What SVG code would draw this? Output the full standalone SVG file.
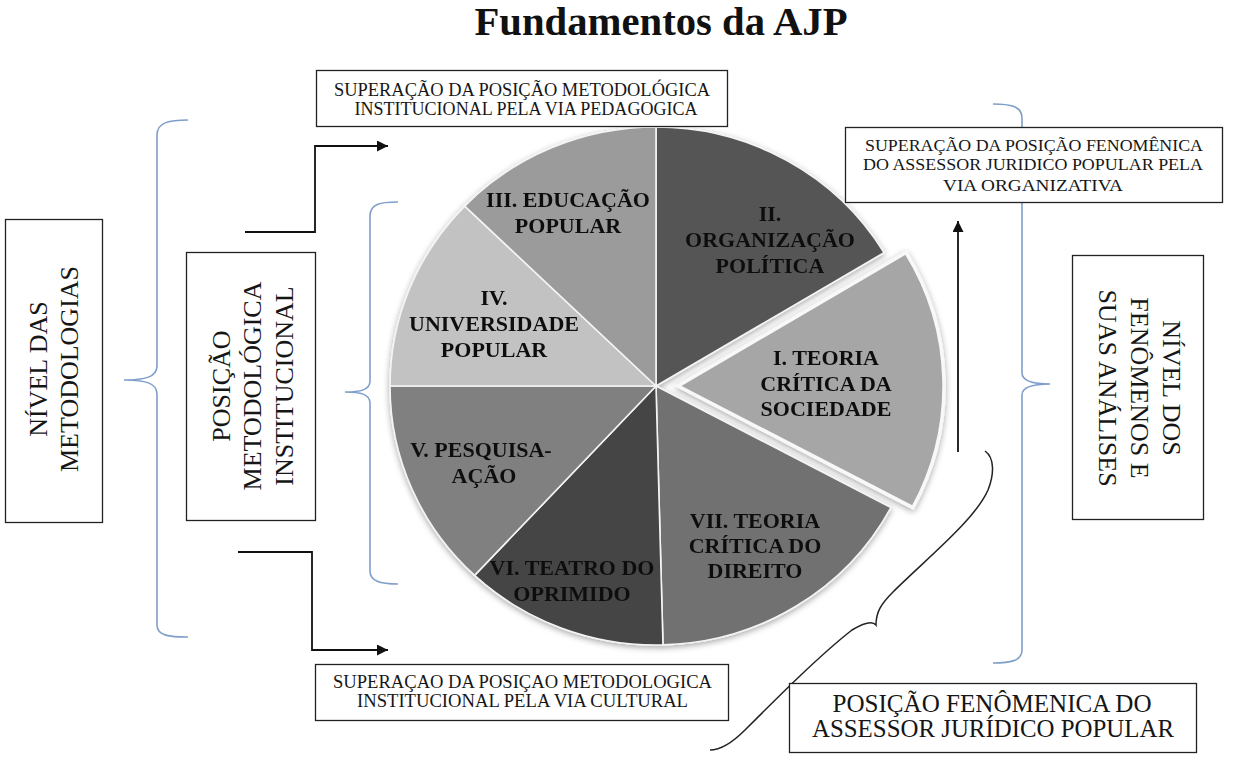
<svg xmlns="http://www.w3.org/2000/svg" width="1233" height="764" viewBox="0 0 1233 764">
<defs>
<style>
.box{fill:#fff;stroke:#222;stroke-width:1.3}
.bt{font-family:"Liberation Serif","Times New Roman",serif;fill:#161616;text-anchor:middle}
.pt{font-family:"Liberation Serif","Times New Roman",serif;font-weight:bold;font-size:22px;fill:#111;text-anchor:middle}
.sec{stroke:#f4f4f4;stroke-width:1.6}
.brace{fill:none;stroke:#7f9fcb;stroke-width:1.6}
.arr{fill:none;stroke:#111;stroke-width:1.8}
</style>
<marker id="ah" viewBox="0 0 10 10" refX="10" refY="5" markerWidth="12" markerHeight="11" markerUnits="userSpaceOnUse" orient="auto">
<path d="M0,0 L10,5 L0,10 z" fill="#111"/>
</marker>
<filter id="shadow" x="-10%" y="-10%" width="120%" height="120%">
<feDropShadow dx="0" dy="2" stdDeviation="3" flood-color="#000" flood-opacity="0.35"/>
</filter>
</defs>
<rect width="1233" height="764" fill="#fff"/>

<g id="title">
<text x="661" y="34.5" font-family="Liberation Serif,'Times New Roman',serif" font-weight="bold" font-size="39" text-anchor="middle" textLength="373" lengthAdjust="spacingAndGlyphs" fill="#111">Fundamentos da AJP</text>
</g>

<g id="connectors">
<path class="brace" d="M188,120 C170,120 157,122 157,135 L157,366 C157,377 145,380 124,380 C145,380 157,383 157,394 L157,625 C157,636 170,637 188,637"/>
<path class="brace" d="M398,202 C380,202 370,204 370,216 L370,381 C370,390 360,392 345,392 C360,392 370,394 370,403 L370,571 C370,581 380,584 398,584"/>
<path class="brace" d="M993,104 C1010,104 1022,106 1022,118 L1022,373 C1022,381 1032,384 1050,384 C1032,384 1022,387 1022,395 L1022,650 C1022,661 1010,663 993,663"/>
<path class="arr" d="M245,232 L315,232 L315,146 L388,146" marker-end="url(#ah)"/>
<path class="arr" d="M238,552 L312,552 L312,650 L388,650" marker-end="url(#ah)"/>
<path class="arr" d="M958,452 L958,221" marker-end="url(#ah)"/>
<path d="M985,451 C995,458 994,475 988,490 C975,520 925,560 893,592 C881,604 876,612 876,625 C872,620 862,624 852,630 C820,655 780,695 745,730 C732,743 720,750 710,750" fill="none" stroke="#222" stroke-width="1.5"/>
</g>

<g id="pie" filter="url(#shadow)">
<g id="sector-II">
<path class="sec" fill="#555555" d="M656,386 L656,127 A266,259 0 0 1 884.0,252.6 Z"/>
<text class="pt" x="770" y="221">II.</text>
<text class="pt" x="770" y="247">ORGANIZAÇÃO</text>
<text class="pt" x="770" y="273">POLÍTICA</text>
</g>
<g id="sector-VII">
<path class="sec" fill="#717171" d="M656,386 L890.9,507.6 A266,259 0 0 1 663.0,644.9 Z"/>
<text class="pt" x="755" y="528">VII. TEORIA</text>
<text class="pt" x="755" y="553">CRÍTICA DO</text>
<text class="pt" x="755" y="578">DIREITO</text>
</g>
<g id="sector-VI">
<path class="sec" fill="#444444" d="M656,386 L663.0,644.9 A266,259 0 0 1 474.6,575.4 Z"/>
<text class="pt" x="572" y="575">VI. TEATRO DO</text>
<text class="pt" x="572" y="601">OPRIMIDO</text>
</g>
<g id="sector-V">
<path class="sec" fill="#808080" d="M656,386 L474.6,575.4 A266,259 0 0 1 390,386 Z"/>
<text class="pt" x="481" y="457">V. PESQUISA-</text>
<text class="pt" x="484" y="483">AÇÃO</text>
</g>
<g id="sector-IV">
<path class="sec" fill="#c2c2c2" d="M656,386 L390,386 A266,259 0 0 1 464.7,206.1 Z"/>
<text class="pt" x="494" y="305">IV.</text>
<text class="pt" x="494" y="331">UNIVERSIDADE</text>
<text class="pt" x="494" y="357">POPULAR</text>
</g>
<g id="sector-III">
<path class="sec" fill="#9b9b9b" d="M656,386 L464.7,206.1 A266,259 0 0 1 656,127 Z"/>
<text class="pt" x="568" y="207">III. EDUCAÇÃO</text>
<text class="pt" x="568" y="233">POPULAR</text>
</g>
<g id="sector-I">
<path fill="#a6a6a6" stroke="#f8f8f8" stroke-width="3.5" d="M678,386 L906.0,252.6 A266,259 0 0 1 912.9,507.6 Z"/>
<text class="pt" x="826" y="365">I. TEORIA</text>
<text class="pt" x="826" y="391">CRÍTICA DA</text>
<text class="pt" x="826" y="416">SOCIEDADE</text>
</g>
</g>

<g id="box-pedagogica">
<rect class="box" x="316.5" y="70.5" width="411" height="56"/>
<text class="bt" font-size="18.5" x="522" y="96" textLength="376" lengthAdjust="spacingAndGlyphs">SUPERAÇÃO DA POSIÇÃO METODOLÓGICA</text>
<text class="bt" font-size="18.5" x="526" y="115" textLength="343" lengthAdjust="spacingAndGlyphs">INSTITUCIONAL PELA VIA PEDAGOGICA</text>
</g>

<g id="box-organizativa">
<rect class="box" x="845.5" y="127.5" width="377" height="75"/>
<text class="bt" font-size="16.5" x="1034" y="151" textLength="338" lengthAdjust="spacingAndGlyphs">SUPERAÇÃO DA POSIÇÃO FENOMÊNICA</text>
<text class="bt" font-size="16.5" x="1033" y="170" textLength="340" lengthAdjust="spacingAndGlyphs">DO ASSESSOR JURIDICO POPULAR PELA</text>
<text class="bt" font-size="16.5" x="1033" y="190.5" textLength="180" lengthAdjust="spacingAndGlyphs">VIA ORGANIZATIVA</text>
</g>

<g id="box-cultural">
<rect class="box" x="315.5" y="664.5" width="413" height="56"/>
<text class="bt" font-size="18.5" x="522.5" y="688" textLength="379" lengthAdjust="spacingAndGlyphs">SUPERAÇAO DA POSIÇAO METODOLOGICA</text>
<text class="bt" font-size="18.5" x="522.5" y="707" textLength="331" lengthAdjust="spacingAndGlyphs">INSTITUCIONAL PELA VIA CULTURAL</text>
</g>

<g id="box-posicao-fenomenica">
<rect class="box" x="789.5" y="683.5" width="407" height="69"/>
<text class="bt" font-size="25" x="992" y="712" textLength="319" lengthAdjust="spacingAndGlyphs">POSIÇÃO FENÔMENICA DO</text>
<text class="bt" font-size="25" x="993" y="737" textLength="362" lengthAdjust="spacingAndGlyphs">ASSESSOR JURÍDICO POPULAR</text>
</g>

<g id="box-nivel-metodologias">
<rect class="box" x="5.5" y="219.5" width="97" height="303"/>
<text class="bt" font-size="26" transform="translate(47,369) rotate(-90)" x="0" y="0">NÍVEL DAS</text>
<text class="bt" font-size="26" transform="translate(78,369) rotate(-90)" x="0" y="0">METODOLOGIAS</text>
</g>

<g id="box-posicao-metodologica">
<rect class="box" x="186.5" y="252.5" width="129" height="268"/>
<text class="bt" font-size="26" transform="translate(230,386) rotate(-90)" x="0" y="0">POSIÇÃO</text>
<text class="bt" font-size="26" transform="translate(261,386) rotate(-90)" x="0" y="0">METODOLÓGICA</text>
<text class="bt" font-size="26" transform="translate(293,386) rotate(-90)" x="0" y="0">INSTITUCIONAL</text>
</g>

<g id="box-nivel-fenomenos">
<rect class="box" x="1072.5" y="255.5" width="131" height="264"/>
<text class="bt" font-size="26" transform="translate(1163,388) rotate(90)" x="0" y="0">NÍVEL DOS</text>
<text class="bt" font-size="26" transform="translate(1131,388) rotate(90)" x="0" y="0">FENÔMENOS E</text>
<text class="bt" font-size="26" transform="translate(1099,388) rotate(90)" x="0" y="0">SUAS ANÁLISES</text>
</g>
</svg>
